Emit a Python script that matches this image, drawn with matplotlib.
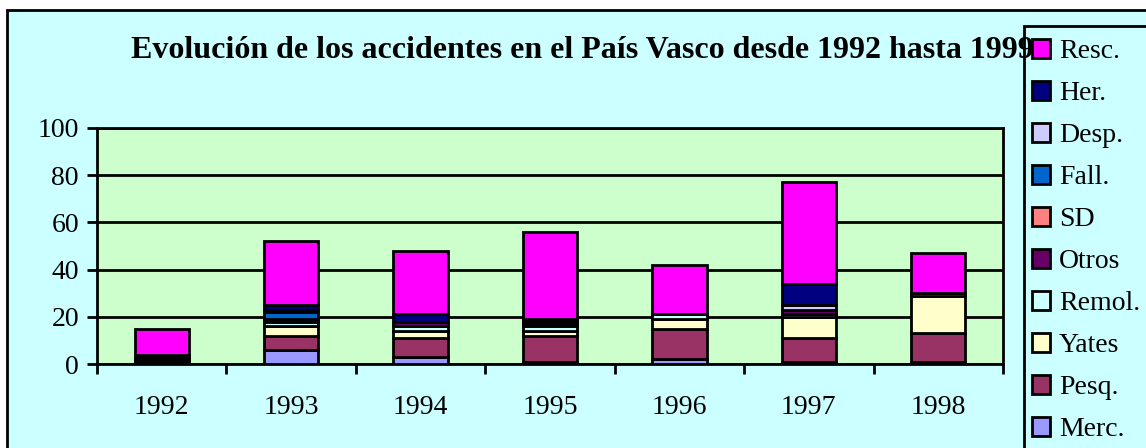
import matplotlib.pyplot as plt
from matplotlib.patches import Rectangle
import numpy as np

years = ['1992', '1993', '1994', '1995', '1996', '1997', '1998']

# stack order, bottom to top
merc  = [0, 6, 3, 1, 2, 1, 1]
pesq  = [0, 6, 8, 11, 13, 10, 12]
yates = [0, 4, 3, 2, 4, 9, 16]
remol = [1, 2, 2, 2, 2, 1, 1]
otros = [1, 1, 2, 1, 0, 2, 0]
sd    = [0, 0, 0, 0, 0, 0, 0]
fall  = [0, 3, 0, 1, 0, 0, 0]
desp  = [1, 1, 0, 0, 0, 2, 0]
her   = [1, 2, 3, 1, 0, 9, 0]
resc  = [11, 27, 27, 37, 21, 43, 17]

series = [('Merc.', merc, '#9999FF'), ('Pesq.', pesq, '#993366'),
          ('Yates', yates, '#FFFFCC'), ('Remol.', remol, '#CCFFFF'),
          ('Otros', otros, '#660066'), ('SD', sd, '#FF8080'),
          ('Fall.', fall, '#0066CC'), ('Desp.', desp, '#CCCCFF'),
          ('Her.', her, '#000080'), ('Resc.', resc, '#FF00FF')]

plt.rcParams['font.family'] = 'Liberation Serif'

fig = plt.figure(figsize=(11.46, 4.48), dpi=100)
fig.patch.set_facecolor('white')
# chart area background with border
fig.patches.append(Rectangle((7/1146, -0.1), 1.2, (448-10)/448 + 0.1,
                             transform=fig.transFigure, facecolor='#CCFFFF',
                             edgecolor='black', linewidth=2, zorder=-5))

ax = fig.add_axes([97/1146, 84/448, 906/1146, 236/448])
ax.set_zorder(2)
ax.set_facecolor('#CCFFCC')

x = np.arange(len(years))
bottom = np.zeros(len(years))
handles = []
for name, vals, col in series:
    h = ax.bar(x, vals, 0.42, bottom=bottom, color=col, edgecolor='black',
               linewidth=2, label=name, zorder=3)
    bottom += np.array(vals)
    handles.append(h)

ax.set_xlim(-0.5, len(years) - 0.5)
ax.set_ylim(0, 100)
ax.set_yticks([0, 20, 40, 60, 80, 100])
ax.set_xticks(x)
ax.set_xticklabels(years)
ax.set_xticks(np.arange(-0.5, len(years)), minor=True)
ax.tick_params(axis='x', which='major', length=0, pad=22, labelsize=20)
ax.tick_params(axis='x', which='minor', length=7, width=2, direction='out')
ax.tick_params(axis='y', length=7, width=2, direction='out', pad=6, labelsize=20)
ax.yaxis.grid(True, color='black', linewidth=2, zorder=1)
ax.set_axisbelow(True)
for s in ax.spines.values():
    s.set_linewidth(2)
    s.set_color('black')

fig.text(582/1146, 1 - 51/448, 'Evolución de los accidentes en el País Vasco desde 1992 hasta 1999',
         ha='center', va='center', fontsize=23, fontweight='bold', zorder=3.5)

# legend box, runs off the right and bottom edges
fig.patches.append(Rectangle((1024/1146, -0.1), 0.2, (448-26)/448 + 0.1,
                             transform=fig.transFigure, facecolor='none',
                             edgecolor='black', linewidth=2, zorder=3))
leg = fig.legend(handles[::-1], [s[0] for s in series][::-1],
                 loc='upper left', bbox_to_anchor=(1024/1146, 1 - 31/448),
                 fontsize=20, frameon=False,
                 handlelength=0.65, handleheight=0.65, handletextpad=0.3,
                 labelspacing=0.61, borderpad=0.3, borderaxespad=0)
leg.set_zorder(4)

plt.savefig('out.png', dpi=100)
